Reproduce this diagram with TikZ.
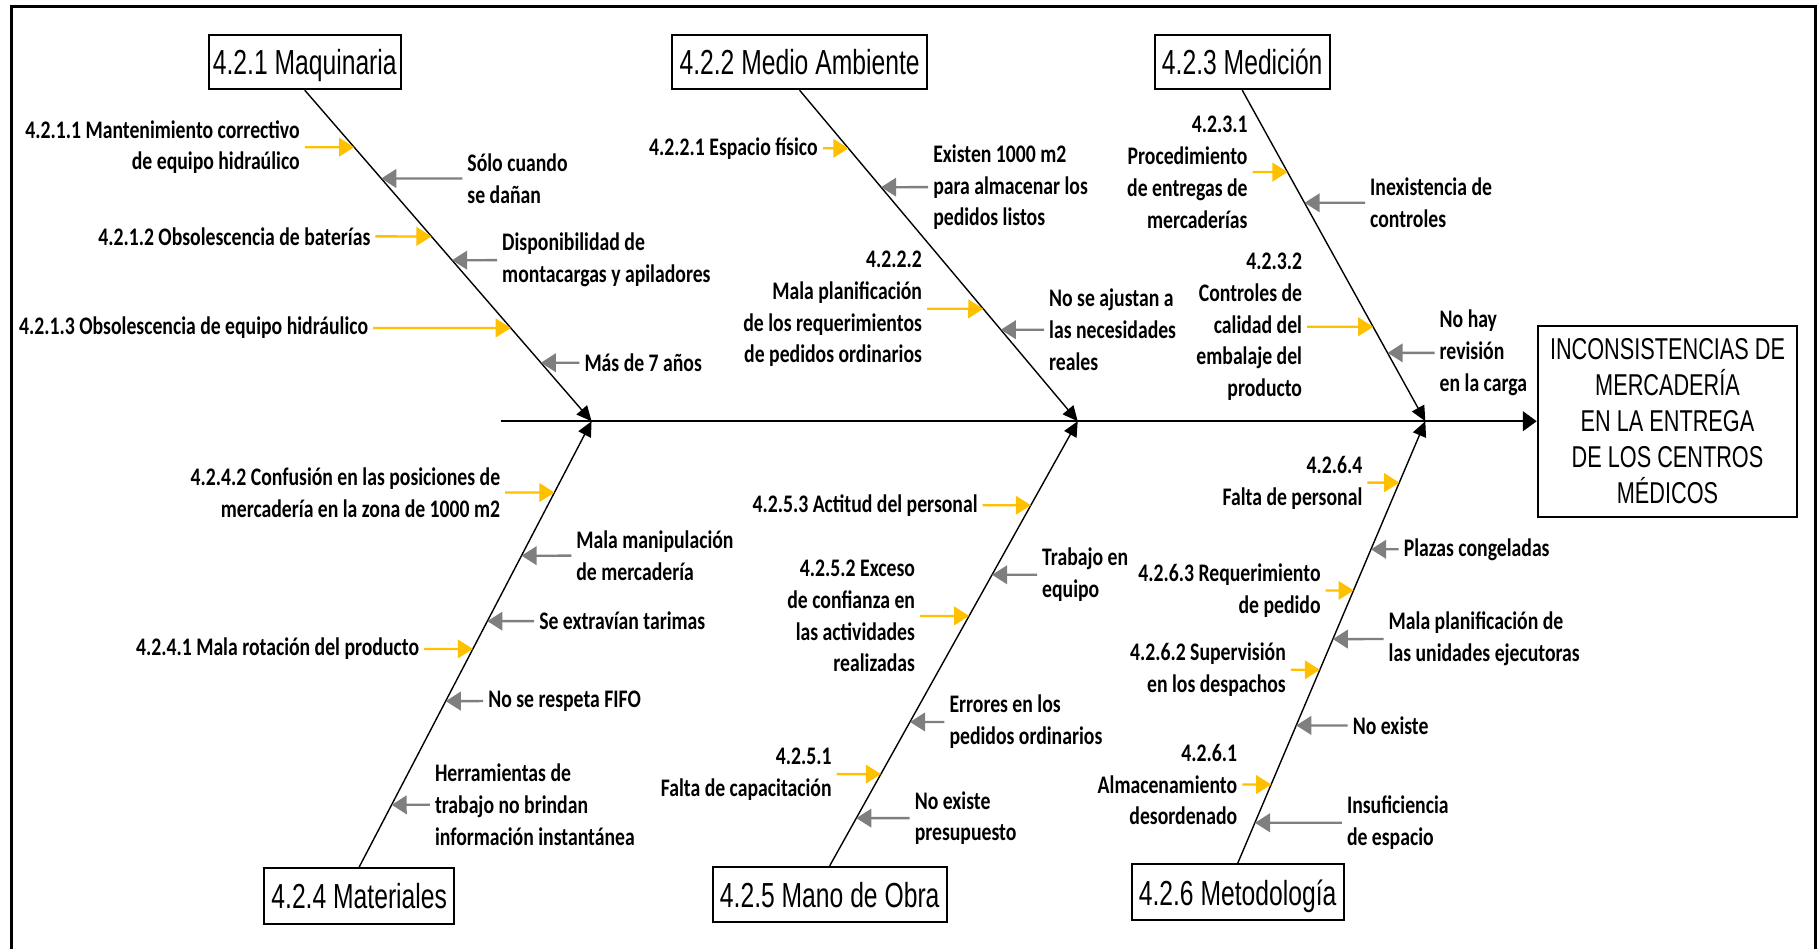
\documentclass[tikz,border=0pt]{standalone}
\usepackage{fontspec}
\usetikzlibrary{arrows.meta}
\newfontfamily\lblfont{Carlito}[FakeStretch=0.78]
\newfontfamily\boxfont{Liberation Sans}[FakeStretch=0.71]
\newfontfamily\effectfont{Liberation Sans}[FakeStretch=0.72]
\definecolor{causeyellow}{HTML}{FFC000}
\definecolor{subgray}{HTML}{7F7F7F}

\begin{document}
\begin{tikzpicture}[x=0.5pt,y=-0.5pt,
  catbox/.style={draw,line width=0.85pt,fill=white,inner sep=0pt,text depth=0pt,
    font=\boxfont\fontsize{15}{18}\selectfont,minimum height=23.5pt},
  effbox/.style={draw,line width=0.85pt,fill=white,inner sep=0pt,align=center,
    font=\effectfont\fontsize{13}{15.5}\selectfont},
  lbl/.style={inner xsep=2pt,inner ysep=0pt,
    font=\lblfont\bfseries\fontsize{10.9}{13.75}\selectfont},
  lblL/.style={lbl,anchor=east,align=right},
  lblR/.style={lbl,anchor=west,align=left},
  bone/.style={line width=0.6pt,-{Triangle[length=6.5pt,width=6pt]}},
  spine/.style={line width=0.85pt,-{Triangle[length=6pt,width=8.5pt]}},
  causearr/.style={causeyellow,line width=1pt,-{Triangle[length=6.5pt,width=8pt]}},
  subarr/.style={subgray,line width=1pt,-{Triangle[length=6.5pt,width=8pt]}},
]
\useasboundingbox (0,0) rectangle (1568,819);

% outer frame (open at the bottom)
\draw[line width=1.3pt] (9.5,819) -- (9.5,6) -- (1566.3,6) -- (1566.3,819);

% category boxes and effect box
\node[catbox,minimum width=83pt]   (m1) at (263,53.5)  {4.2.1 Maquinaria};
\node[catbox,minimum width=110pt]  (m2) at (690,53.5)  {4.2.2 Medio Ambiente};
\node[catbox,minimum width=75.5pt] (m3) at (1072,53.5) {4.2.3 Medición};
\node[catbox,minimum width=82pt,minimum height=24pt]   (m4) at (310,773)  {4.2.4 Materiales};
\node[catbox,minimum width=101pt,minimum height=24pt]  (m5) at (716,772)  {4.2.5 Mano de Obra};
\node[catbox,minimum width=91.5pt,minimum height=24pt] (m6) at (1068,770) {4.2.6 Metodología};
\node[effbox,minimum width=112pt,minimum height=82.5pt] (eff) at (1439,363.5)
  {INCONSISTENCIAS DE\\MERCADERÍA\\EN LA ENTREGA\\DE LOS CENTROS\\MÉDICOS};

% spine and bones
\coordinate (tail) at (432,363.5);
\coordinate (j1) at (510.5,363.5);
\coordinate (j2) at (930,363.5);
\coordinate (j3) at (1230,363.5);
\draw[spine] (tail) -- (eff.west);
\draw[bone] (m1.south) -- (j1);
\draw[bone] (m2.south) -- (j2);
\draw[bone] (m3.south) -- (j3);
\draw[bone] (m4.north) -- (j1);
\draw[bone] (m5.north) -- (j2);
\draw[bone] (m6.north) -- (j3);

% ---- 4.2.1 Maquinaria
\node[lblL] (c211) at (263,127) {4.2.1.1 Mantenimiento correctivo\\de equipo hidraúlico};
\node[lblL] (c212) at (324,204) {4.2.1.2 Obsolescencia de baterías};
\node[lblL] (c213) at (322,283) {4.2.1.3 Obsolescencia de equipo hidráulico};
\node[lblR] (s211) at (399,154) {Sólo cuando\\se dañan};
\node[lblR] (s212) at (429,224.5) {Disponibilidad de\\montacargas y apiladores};
\node[lblR] (s213) at (500,313) {Más de 7 años};
\foreach \n in {c211,c212,c213}
  \draw[causearr] (\n.east) -- (intersection of m1.south--j1 and \n.east--\n.west);
\foreach \n in {s211,s212,s213}
  \draw[subarr] (\n.west) -- (intersection of m1.south--j1 and \n.east--\n.west);

% ---- 4.2.2 Medio Ambiente
\node[lblL] (c221) at (710,128) {4.2.2.1 Espacio físico};
\node[lblL] (c222) at (800,266.5) {4.2.2.2\\Mala planificación\\de los requerimientos\\de pedidos ordinarios};
\node[lblR] (s221) at (801,161.5) {Existen 1000 m2\\para almacenar los\\pedidos listos};
\node[lblR] (s222) at (901,284.5) {No se ajustan a\\las necesidades\\reales};
\foreach \n in {c221,c222}
  \draw[causearr] (\n.east) -- (intersection of m2.south--j2 and \n.east--\n.west);
\foreach \n in {s221,s222}
  \draw[subarr] (\n.west) -- (intersection of m2.south--j2 and \n.east--\n.west);

% ---- 4.2.3 Medición
\node[lblL] (c231) at (1081,148.5) {4.2.3.1\\Procedimiento\\de entregas de\\mercaderías};
\node[lblL] (c232) at (1128,282) {4.2.3.2\\Controles de\\calidad del\\embalaje del\\producto};
\node[lblR] (s231) at (1178,175) {Inexistencia de\\controles};
\node[lblR] (s232) at (1238,304.5) {No hay\\revisión\\en la carga};
\foreach \n in {c231,c232}
  \draw[causearr] (\n.east) -- (intersection of m3.south--j3 and \n.east--\n.west);
\foreach \n in {s231,s232}
  \draw[subarr] (\n.west) -- (intersection of m3.south--j3 and \n.east--\n.west);

% ---- 4.2.4 Materiales
\node[lblL] (c242) at (436,425) {4.2.4.2 Confusión en las posiciones de\\mercadería en la zona de 1000 m2};
\node[lblL] (c241) at (366,560) {4.2.4.1 Mala rotación del producto};
\node[lblR] (s241) at (493,479.5) {Mala manipulación\\de mercadería};
\node[lblR] (s242) at (461,536) {Se extravían tarimas};
\node[lblR] (s243) at (417,605) {No se respeta FIFO};
\node[lblR] (s244) at (371,694.5) {Herramientas de\\trabajo no brindan\\información instantánea};
\foreach \n in {c241,c242}
  \draw[causearr] (\n.east) -- (intersection of m4.north--j1 and \n.east--\n.west);
\foreach \n in {s241,s242,s243,s244}
  \draw[subarr] (\n.west) -- (intersection of m4.north--j1 and \n.east--\n.west);

% ---- 4.2.5 Mano de Obra
\node[lblL] (c253) at (848,436) {4.2.5.3 Actitud del personal};
\node[lblL] (c252) at (794,531.5) {4.2.5.2 Exceso\\de confianza en\\las actividades\\realizadas};
\node[lblL] (c251) at (722,668) {4.2.5.1\\Falta de capacitación};
\node[lblR] (s251) at (895,496) {Trabajo en\\equipo};
\node[lblR] (s252) at (815,623) {Errores en los\\pedidos ordinarios};
\node[lblR] (s253) at (785,706) {No existe\\presupuesto};
\foreach \n in {c251,c252,c253}
  \draw[causearr] (\n.east) -- (intersection of m5.north--j2 and \n.east--\n.west);
\foreach \n in {s251,s252,s253}
  \draw[subarr] (\n.west) -- (intersection of m5.north--j2 and \n.east--\n.west);

% ---- 4.2.6 Metodología
\node[lblL] (c264) at (1180,416.5) {4.2.6.4\\Falta de personal};
\node[lblL] (c263) at (1144,509.5) {4.2.6.3 Requerimiento\\de pedido};
\node[lblL] (c262) at (1114,578) {4.2.6.2 Supervisión\\en los despachos};
\node[lblL] (c261) at (1072,677) {4.2.6.1\\Almacenamiento\\desordenado};
\node[lblR] (s261) at (1207,474) {Plazas congeladas};
\node[lblR] (s262) at (1194,551.5) {Mala planificación de\\las unidades ejecutoras};
\node[lblR] (s263) at (1163,626) {No existe};
\node[lblR] (s264) at (1158,710) {Insuficiencia\\de espacio};
\foreach \n in {c261,c262,c263,c264}
  \draw[causearr] (\n.east) -- (intersection of m6.north--j3 and \n.east--\n.west);
\foreach \n in {s261,s262,s263,s264}
  \draw[subarr] (\n.west) -- (intersection of m6.north--j3 and \n.east--\n.west);

\end{tikzpicture}
\end{document}
